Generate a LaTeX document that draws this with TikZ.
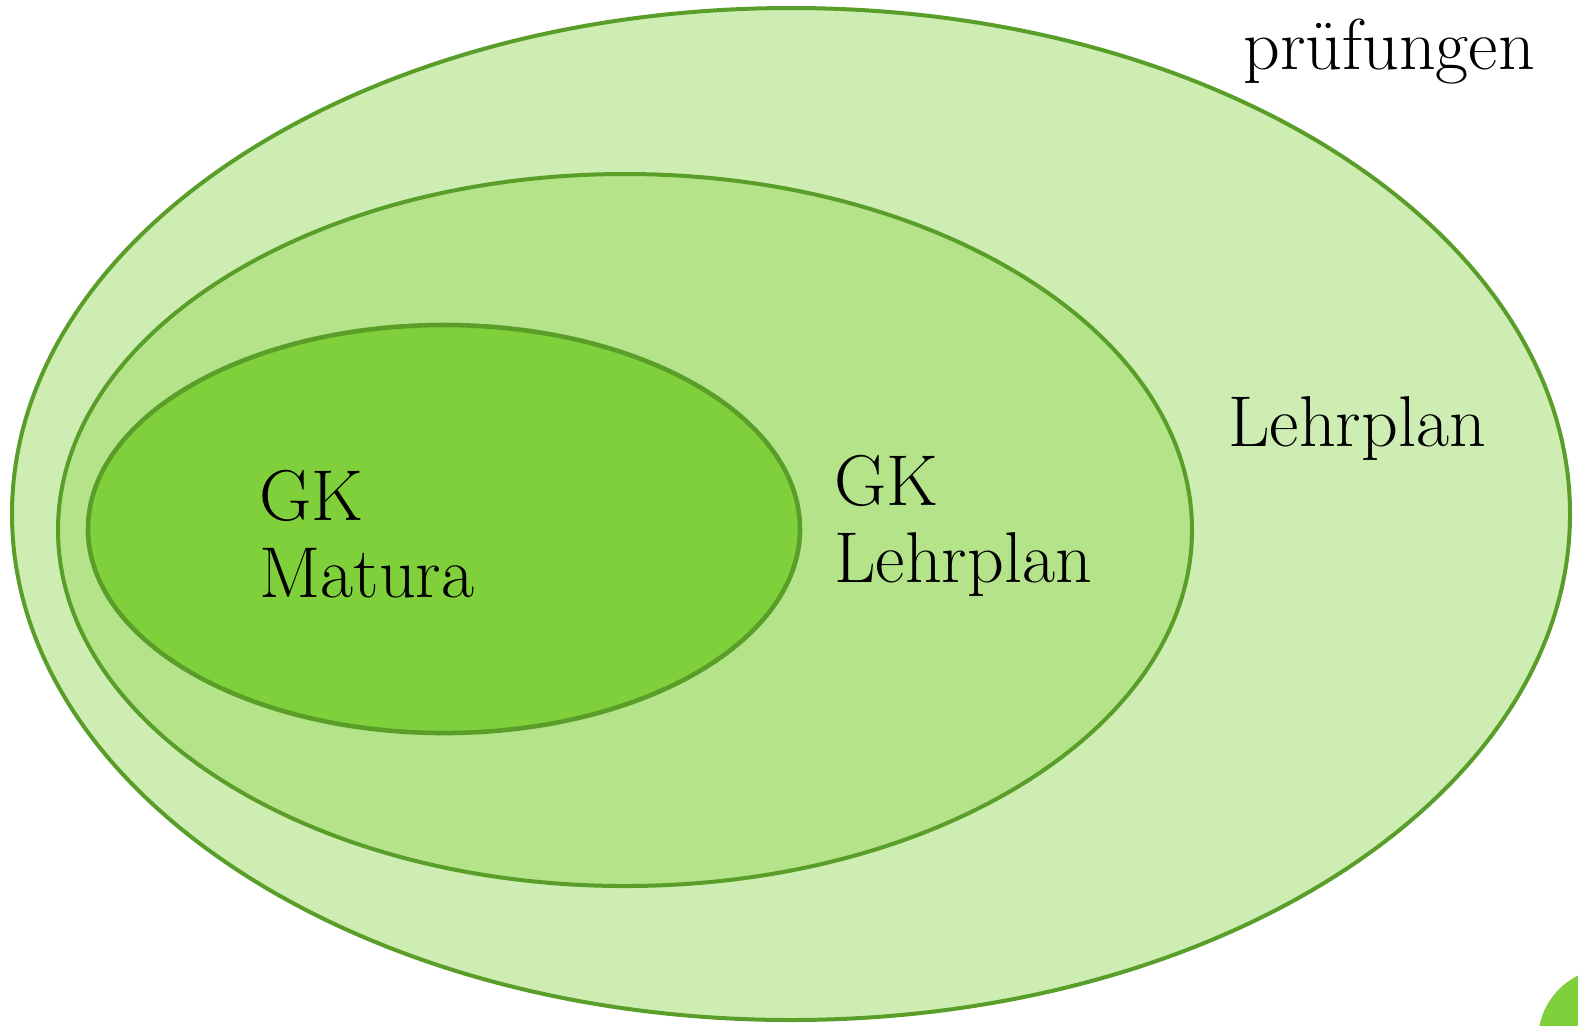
\documentclass[tikz,border=0pt]{standalone}
\usetikzlibrary{shapes.geometric, positioning}
\definecolor{setline}{HTML}{5A9E2A}
\definecolor{outerfill}{HTML}{CDEDB3}
\definecolor{midfill}{HTML}{B4E38A}
\definecolor{innerfill}{HTML}{80D03B}

\begin{document}
\begin{tikzpicture}[
		x=0.5pt, y=-0.5pt,
		set/.style={draw=setline, line width=2pt, ellipse, inner sep=0pt},
		label/.style={anchor=base west, inner sep=0pt, font=\fontsize{36}{38}\selectfont}
		]
		\useasboundingbox (0,0) rectangle (1578,1025);
		% Sets, outside to inside
		\node[set, fill=outerfill, minimum width=779pt, minimum height=506pt] (lehrplan) at (791,514) {};
		\node[set, fill=midfill, minimum width=567pt, minimum height=356pt] (gklehrplan) at (625,530) {};
		\node[set, fill=innerfill, line width=2.3pt, minimum width=356pt, minimum height=204pt] (gkmatura) at (444,529) {};
		% Corner blob
		\fill[innerfill] (1610,1040) circle (36pt);
		
		% Labels
		\node[label] (pruef) at (1243,69) {prüfungen};
		\node[label] (lp) at (1228,446) {Lehrplan};
		\node[label] (gk1) at (834,505) {GK};
		\node[label] (lp1) at (834,582) {Lehrplan};
		\node[label] (gk2) at (259,520) {GK};
		\node[label] (mat) at (259,597) {Matura};
	\end{tikzpicture}
\end{document}
